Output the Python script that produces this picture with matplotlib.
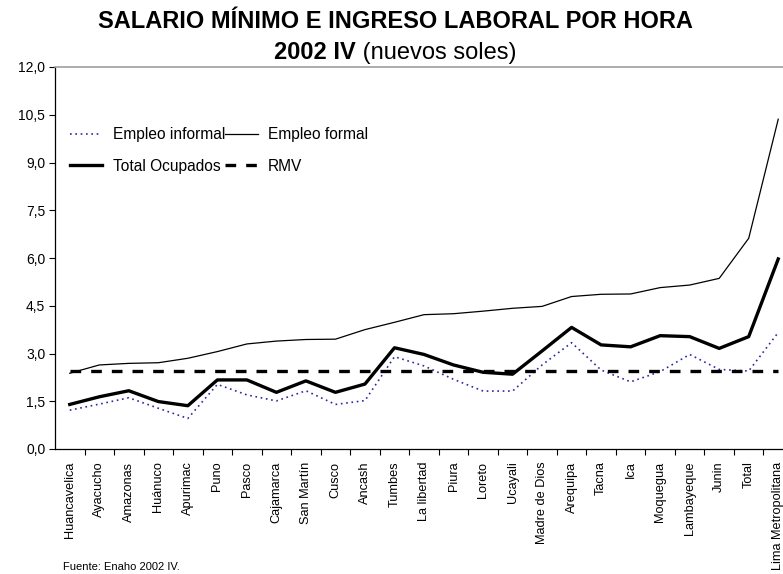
import matplotlib
matplotlib.use("Agg")
import matplotlib.pyplot as plt
from matplotlib.ticker import FixedLocator, FuncFormatter

plt.rcParams['font.family'] = ['Liberation Sans', 'DejaVu Sans']

regions = ["Huancavelica", "Ayacucho", "Amazonas", "Huánuco", "Apurimac", "Puno",
           "Pasco", "Cajamarca", "San Martín", "Cusco", "Ancash", "Tumbes",
           "La libertad", "Piura", "Loreto", "Ucayali", "Madre de Dios", "Arequipa",
           "Tacna", "Ica", "Moquegua", "Lambayeque", "Junin", "Total",
           "Lima Metropolitana"]

informal = [1.22, 1.41, 1.61, 1.28, 0.96, 2.03, 1.70, 1.51, 1.83, 1.40, 1.52, 2.90,
            2.61, 2.19, 1.82, 1.82, 2.64, 3.34, 2.48, 2.11, 2.43, 2.97, 2.50, 2.45,
            3.66]
formal = [2.38, 2.64, 2.69, 2.71, 2.85, 3.06, 3.30, 3.39, 3.44, 3.45, 3.75, 3.98,
          4.22, 4.25, 4.33, 4.42, 4.48, 4.79, 4.86, 4.87, 5.07, 5.15, 5.36, 6.62,
          10.36]
total = [1.40, 1.64, 1.83, 1.49, 1.36, 2.17, 2.17, 1.78, 2.14, 1.78, 2.04, 3.18,
         2.97, 2.64, 2.41, 2.35, 3.08, 3.82, 3.27, 3.21, 3.56, 3.53, 3.16, 3.53,
         5.97]
rmv = [2.44] * len(regions)

fig = plt.figure(figsize=(7.83, 5.74), dpi=100)
ax = fig.add_axes([55/783, 125/574, (793-55)/783, 382/574])

x = list(range(len(regions)))
h1, = ax.plot(x, informal, color='#2a2aa0', lw=1.2, ls=(0, (1, 2.2)), label='Empleo informal')
h2, = ax.plot(x, formal, color='black', lw=0.9, label='Empleo formal')
h3, = ax.plot(x, total, color='black', lw=2.4, label='Total Ocupados')
h4, = ax.plot(x, rmv, color='black', lw=2.4, ls=(0, (3.2, 3.0)), label='RMV')

ax.set_xlim(-0.5, len(regions) - 0.5)
ax.set_ylim(0, 12)
yt = [0, 1.5, 3.0, 4.5, 6.0, 7.5, 9.0, 10.5, 12.0]
ax.set_yticks(yt)
ax.yaxis.set_major_formatter(FuncFormatter(lambda v, p: f"{v:.1f}".replace('.', ',')))
ax.tick_params(axis='y', direction='out', length=4, width=0.8, labelsize=10, pad=3)

ax.set_xticks(x)
ax.set_xticklabels(regions, rotation=90, fontsize=9.2)
ax.xaxis.set_minor_locator(FixedLocator([i + 0.5 for i in range(len(regions))]))
ax.tick_params(axis='x', which='major', length=0, pad=9)
ax.tick_params(axis='x', which='minor', direction='out', length=4, width=0.8)

ax.spines['right'].set_visible(False)
ax.spines['top'].set_color('#a0a0a0')
ax.spines['top'].set_linewidth(1.2)
ax.spines['left'].set_linewidth(0.9)
ax.spines['bottom'].set_linewidth(0.9)

leg = ax.legend([h1, h3, h2, h4], ['Empleo informal', 'Total Ocupados', 'Empleo formal', 'RMV'],
                ncol=2, loc='upper left', bbox_to_anchor=(0.020, 0.842), frameon=False,
                fontsize=11.2, handlelength=2.1, columnspacing=0.0, handletextpad=0.65,
                labelspacing=1.04, borderaxespad=0, borderpad=0)

fig.text(395/783, 1 - 28/574, "SALARIO MÍNIMO E INGRESO LABORAL POR HORA", ha='center',
         va='baseline', fontsize=17, fontweight='bold')
fig.text(356/783, 1 - 59/574, "2002 IV", ha='right', va='baseline', fontsize=17, fontweight='bold')
fig.text(356/783, 1 - 59/574, " (nuevos soles)", ha='left', va='baseline', fontsize=17)

fig.text(63/783, 1 - 567/574, "Fuente: Enaho 2002 IV.", ha='left', va='center', fontsize=8)

fig.savefig("out.png", dpi=100)
